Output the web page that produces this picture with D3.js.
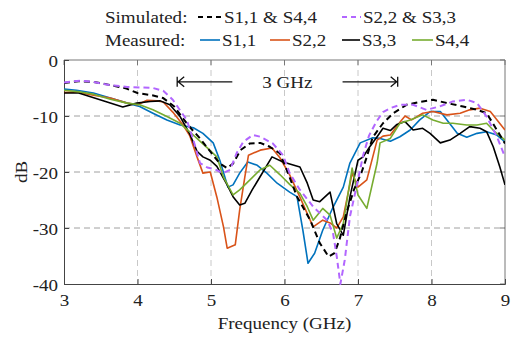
<!DOCTYPE html>
<html lang="en">
	<head>
		<meta charset="utf-8">
		<title>S-parameter chart</title>
		<style>
			body { margin: 0; background: #fff; }
			svg text { font-family: "Liberation Serif", "Times New Roman", serif; font-size: 17px; fill: #222; }
		</style>
	</head>
	<body>
		<svg class="chart" width="518" height="338"></svg>

		<script src="https://d3js.org/d3.v7.min.js"></script>
		<script type="text/javascript">

			// axis ticks
			var xTicks = [3, 4, 5, 6, 7, 8, 9],
				yTicks = [0, -10, -20, -30, -40];

			// simulated S1,1 & S4,4 (black dashed)
			var simAFreq = [3.0, 3.2, 3.4, 3.6, 3.85, 4.0, 4.2, 4.35, 4.5, 4.6, 4.7, 4.85, 5.0, 5.12, 5.22, 5.3, 5.4, 5.53, 5.67, 5.8, 5.94, 6.03, 6.17, 6.35, 6.48, 6.6, 6.68, 6.75, 6.85, 6.95, 7.05, 7.12, 7.2, 7.34, 7.48, 7.66, 7.84, 8.02, 8.21, 8.43, 8.62, 8.75, 8.89, 9.0];
			var simADb = [-4.1, -3.8, -3.9, -4.4, -5.1, -5.9, -6.3, -6.8, -8.3, -10.1, -11.8, -14.0, -16.5, -18.5, -19.3, -18.5, -16.1, -14.9, -14.8, -15.5, -16.7, -19.6, -24.4, -28.6, -32.7, -35.1, -34.5, -32, -27, -23, -20, -17.3, -13.8, -11.3, -9.5, -8.0, -7.5, -7.1, -7.7, -8.3, -8.9, -9.5, -12.5, -14.9];

			// simulated S2,2 & S3,3 (violet dashed)
			var simBFreq = [3.0, 3.22, 3.39, 3.63, 3.86, 4.03, 4.21, 4.35, 4.48, 4.58, 4.67, 4.76, 4.85, 4.95, 5.05, 5.16, 5.26, 5.35, 5.44, 5.57, 5.67, 5.84, 5.98, 6.07, 6.2, 6.39, 6.58, 6.66, 6.71, 6.76, 6.82, 6.89, 6.99, 7.07, 7.15, 7.25, 7.34, 7.44, 7.57, 7.75, 7.93, 8.11, 8.29, 8.48, 8.62, 8.75, 8.89, 9.0];
			var simBDb = [-4.0, -3.7, -3.9, -4.5, -4.8, -4.9, -5.0, -5.5, -7.1, -9.0, -10.7, -14.3, -18.4, -19.2, -19.5, -20.2, -19.6, -16.6, -14.6, -13.4, -13.7, -14.9, -17.0, -20.2, -23, -26.2, -28.6, -30.9, -35, -40, -35.7, -28, -22, -17, -13.5, -11, -9.3, -8.6, -8.0, -8.0, -8.9, -8.3, -7.4, -7.1, -7.7, -10.1, -13.7, -17.3];

			// measured S1,1 (blue)
			var m11Freq = [3.0, 3.17, 3.4, 3.63, 3.86, 4.03, 4.21, 4.4, 4.58, 4.76, 4.89, 5.03, 5.12, 5.23, 5.30, 5.39, 5.5, 5.63, 5.76, 5.9, 6.07, 6.17, 6.25, 6.32, 6.41, 6.52, 6.66, 6.80, 6.89, 7.03, 7.2, 7.3, 7.44, 7.57, 7.71, 7.84, 7.98, 8.12, 8.21, 8.35, 8.48, 8.62, 8.75, 8.89, 9.0];
			var m11Db = [-5.2, -5.4, -5.9, -6.8, -7.7, -8.3, -9.5, -10.7, -11.6, -12.1, -13.1, -14.8, -17.9, -22.7, -22.3, -20.2, -18.2, -18.8, -20.2, -22.0, -23.6, -24.4, -30.4, -36.3, -34.5, -30.4, -26.3, -22.7, -18.4, -14.8, -13.9, -14.0, -14.5, -13.7, -12.5, -10.7, -9.2, -9.2, -10.7, -13.1, -13.8, -13.1, -12.8, -13.4, -14.6];

			// measured S2,2 (orange)
			var m22Freq = [3.0, 3.17, 3.4, 3.63, 3.86, 4.0, 4.13, 4.27, 4.35, 4.48, 4.62, 4.71, 4.81, 4.89, 4.99, 5.08, 5.17, 5.22, 5.33, 5.39, 5.46, 5.51, 5.67, 5.83, 5.94, 6.07, 6.21, 6.39, 6.52, 6.62, 6.71, 6.80, 6.92, 7.0, 7.12, 7.26, 7.34, 7.44, 7.57, 7.64, 7.73, 7.88, 8.02, 8.21, 8.39, 8.52, 8.66, 8.80, 9.0];
			var m22Db = [-5.8, -5.7, -6.3, -6.8, -7.7, -8.0, -7.2, -7.3, -7.5, -9.3, -11.6, -13.5, -17.3, -20.2, -20.0, -24.5, -29.8, -33.6, -33.0, -26.8, -20.9, -17.0, -16.1, -15.7, -17.5, -20.5, -24.5, -29.8, -28.6, -29.1, -30.0, -28.0, -20.2, -22.7, -21.4, -14.3, -13.6, -13.4, -11.1, -10.0, -10.7, -9.5, -9.2, -9.8, -9.5, -8.9, -8.6, -9.2, -12.5];

			// measured S3,3 (black)
			var m33Freq = [3.0, 3.2, 3.49, 3.80, 3.99, 4.17, 4.31, 4.44, 4.58, 4.71, 4.81, 4.89, 4.99, 5.08, 5.22, 5.30, 5.39, 5.46, 5.56, 5.67, 5.83, 5.98, 6.21, 6.31, 6.39, 6.48, 6.62, 6.71, 6.80, 6.89, 7.0, 7.07, 7.16, 7.26, 7.34, 7.44, 7.53, 7.64, 7.75, 7.88, 7.98, 8.12, 8.25, 8.39, 8.52, 8.66, 8.75, 8.84, 8.93, 9.0];
			var m33Db = [-5.9, -5.9, -7.1, -8.4, -7.7, -7.4, -7.3, -8.0, -10.1, -13.2, -16.3, -17.3, -17.9, -19.0, -22.3, -24.4, -25.9, -25.6, -23.2, -20.8, -17.3, -18.2, -19.1, -22.0, -25.0, -25.3, -23.6, -29.2, -31.3, -24.5, -17.9, -17.3, -15.5, -13.7, -12.2, -12.6, -11.5, -11.0, -12.5, -12.2, -13.1, -14.8, -14.3, -13.1, -11.9, -12.2, -12.8, -15.5, -19.1, -22.3];

			// measured S4,4 (green)
			var m44Freq = [3.0, 3.22, 3.40, 3.63, 3.86, 4.03, 4.21, 4.40, 4.58, 4.76, 4.95, 5.08, 5.17, 5.30, 5.39, 5.53, 5.67, 5.80, 5.94, 6.07, 6.21, 6.31, 6.39, 6.52, 6.62, 6.71, 6.80, 6.92, 7.0, 7.12, 7.26, 7.3, 7.44, 7.57, 7.71, 7.88, 8.02, 8.16, 8.29, 8.48, 8.62, 8.75, 8.86, 9.0];
			var m44Db = [-5.4, -5.7, -6.1, -7.0, -7.7, -8.0, -8.9, -10.1, -11.3, -13.4, -15.7, -17.3, -20.9, -24.1, -23.2, -21.4, -19.6, -18.8, -20.5, -22.2, -23.8, -26.2, -28.6, -26.5, -27.7, -31.8, -29.2, -19.3, -24.1, -26.5, -18.4, -14.8, -14.0, -11.3, -10.7, -9.8, -10.7, -11.3, -11.3, -11.6, -11.6, -11.3, -12.8, -14.3];

			// 3 GHz band annotation
			var bandStart = 4.54, bandEnd = 7.54, bandArrowLen = 0.75, bandLevel = -3.9, bandText = "3 GHz";

			var series = [
				{ name: "S1,1 & S4,4", f: simAFreq, v: simADb, color: "#000000", dash: "6,4", w: 2 },
				{ name: "S2,2 & S3,3", f: simBFreq, v: simBDb, color: "#b266ff", dash: "6,4", w: 2 },
				{ name: "S1,1", f: m11Freq, v: m11Db, color: "#0072bd", dash: null, w: 1.6 },
				{ name: "S2,2", f: m22Freq, v: m22Db, color: "#d95319", dash: null, w: 1.6 },
				{ name: "S3,3", f: m33Freq, v: m33Db, color: "#000000", dash: null, w: 1.6 },
				{ name: "S4,4", f: m44Freq, v: m44Db, color: "#77ac30", dash: null, w: 1.6 }
			];

			// plot box (window.top is read-only, so no "top" here)
			var pL = 64, pR = 505, pT = 60, pB = 284,
				sx = 1.12; // text is a bit wider than plain Times

			var x = d3.scaleLinear().domain([3, 9]).range([pL, pR]);
			var y = d3.scaleLinear().domain([-40, 0]).range([pB, pT]);

			var svg = d3.select(".chart");

			// text helper, stretched horizontally
			function label(g, px, py, str, anchor) {
				return g.append("text")
					.attr("transform", "translate(" + px + "," + py + ") scale(" + sx + ",1)")
					.attr("text-anchor", anchor || "start")
					.text(str);
			}

			// grid
			svg.append("g").selectAll("line")
				.data(yTicks.filter(function(d) { return d < 0 && d > -40; }))
				.enter().append("line")
				.attr("x1", pL).attr("x2", pR)
				.attr("y1", y).attr("y2", y)
				.attr("stroke", "#a0a0a0").attr("stroke-dasharray", "6,4");

			svg.append("g").selectAll("line")
				.data(xTicks.filter(function(d) { return d > 3 && d < 9; }))
				.enter().append("line")
				.attr("y1", pT).attr("y2", pB)
				.attr("x1", x).attr("x2", x)
				.attr("stroke", "#c8c8c8").attr("stroke-dasharray", "6,4");

			// frame top / right
			svg.append("path")
				.attr("d", "M" + pL + "," + pT + "H" + pR + "V" + pB)
				.attr("fill", "none").attr("stroke", "#777");

			// inner ticks on top and right
			svg.append("g").selectAll("line").data(xTicks).enter().append("line")
				.attr("x1", x).attr("x2", x).attr("y1", pT).attr("y2", pT + 5)
				.attr("stroke", "#777");
			svg.append("g").selectAll("line").data(yTicks).enter().append("line")
				.attr("x1", pR).attr("x2", pR - 5).attr("y1", y).attr("y2", y)
				.attr("stroke", "#777");

			// bottom + left axes
			var xAxis = svg.append("g")
				.attr("transform", "translate(0," + pB + ")")
				.call(d3.axisBottom(x).tickValues(xTicks).tickSize(-5).tickPadding(10).tickFormat(String));
			var yAxis = svg.append("g")
				.attr("transform", "translate(" + pL + ",0)")
				.call(d3.axisLeft(y).tickValues(yTicks).tickSize(-5).tickPadding(6).tickFormat(String));

			[xAxis, yAxis].forEach(function(a) {
				a.attr("font-family", null).attr("font-size", null);
				a.select(".domain").attr("stroke", "#444");
				a.selectAll(".tick line").attr("stroke", "#444");
				a.selectAll(".tick text").attr("fill", "#222")
					.attr("transform", "scale(" + sx + ",1)");
			});
			yAxis.selectAll(".tick text").attr("dy", "0.4em")
				.attr("x", -6 / sx);

			// axis titles
			label(svg, (pL + pR) / 2, 329, "Frequency (GHz)", "middle");
			svg.append("text")
				.attr("transform", "translate(27," + ((pT + pB) / 2) + ") rotate(-90) scale(" + sx + ",1)")
				.attr("text-anchor", "middle")
				.text("dB");

			// curves
			svg.append("clipPath").attr("id", "plot")
				.append("rect").attr("x", pL).attr("y", pT - 1)
				.attr("width", pR - pL).attr("height", pB - pT + 2);

			var line = d3.line()
				.x(function(d) { return x(d[0]); })
				.y(function(d) { return y(d[1]); });

			var order = [2, 3, 4, 5, 0, 1];
			svg.append("g").attr("clip-path", "url(#plot)")
				.selectAll("path")
				.data(order.map(function(i) { return series[i]; }))
				.enter().append("path")
				.attr("d", function(s) { return line(d3.zip(s.f, s.v)); })
				.attr("fill", "none")
				.attr("stroke", function(s) { return s.color; })
				.attr("stroke-width", function(s) { return s.w; })
				.attr("stroke-dasharray", function(s) { return s.dash; })
				.attr("stroke-linejoin", "round");

			// band arrows
			var ay = y(bandLevel), ann = svg.append("g").attr("stroke", "#111").attr("stroke-width", 1.3).attr("fill", "none");
			var x0 = x(bandStart), x1 = x(bandEnd);
			ann.append("path").attr("d", "M" + x0 + "," + (ay - 5) + "V" + (ay + 5) +
				"M" + (x0 + 7) + "," + (ay - 5) + "L" + (x0 + 1) + "," + ay + "L" + (x0 + 7) + "," + (ay + 5) +
				"M" + (x0 + 1) + "," + ay + "H" + x(bandStart + bandArrowLen));
			ann.append("path").attr("d", "M" + x1 + "," + (ay - 5) + "V" + (ay + 5) +
				"M" + (x1 - 7) + "," + (ay - 5) + "L" + (x1 - 1) + "," + ay + "L" + (x1 - 7) + "," + (ay + 5) +
				"M" + (x1 - 1) + "," + ay + "H" + x(bandEnd - bandArrowLen));
			label(svg, (x0 + x1) / 2, ay + 6, bandText, "middle");

			// legend
			var leg = svg.append("g");
			label(leg, 105, 23, "Simulated:");
			label(leg, 105, 46, "Measured:");
			var legPos = [[198, 23, 24], [342, 23, 19], [200, 46, 20], [270, 46, 20], [342, 46, 18], [412, 46, 21]];
			series.forEach(function(s, i) {
				var p = legPos[i];
				leg.append("line")
					.attr("x1", p[0]).attr("x2", p[0] + p[2])
					.attr("y1", p[1] - 6).attr("y2", p[1] - 6)
					.attr("stroke", s.color).attr("stroke-width", s.w)
					.attr("stroke-dasharray", s.dash ? "5,4" : null);
				label(leg, p[0] + p[2] + 2, p[1], s.name);
			});

		</script>
	</body>
</html>
